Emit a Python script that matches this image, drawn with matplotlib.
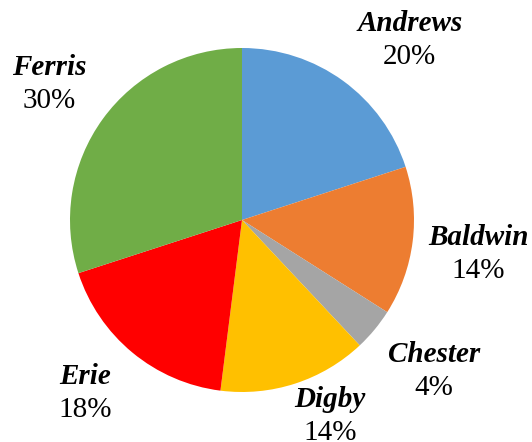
import matplotlib
matplotlib.use("Agg")
import matplotlib.pyplot as plt
import numpy as np

categories = ["Andrews", "Baldwin", "Chester", "Digby", "Erie", "Ferris"]
shares = [20, 14, 4, 14, 18, 30]
colors = ["#5B9BD5", "#ED7D31", "#A5A5A5", "#FFC000", "#FF0000", "#70AD47"]

# label anchor (radius factor, angle offset in degrees) relative to each wedge's mid-angle
label_radius = [1.43, 1.39, 1.42, 1.25, 1.36, 1.37]
label_shift = [-7, -1, 1.4, 6.2, -2.5, 0.7]

fig = plt.figure(figsize=(5.32, 4.42), dpi=100)
ax = fig.add_axes([(242 - 172) / 532, 1 - (220 + 172) / 442, 344 / 532, 344 / 442])

wedges, _ = ax.pie(shares, colors=colors, startangle=90, counterclock=False,
                   radius=1.0, wedgeprops=dict(linewidth=0))
ax.set_xlim(-1, 1)
ax.set_ylim(-1, 1)
ax.set_aspect("equal")

for w, name, val, rf, sh in zip(wedges, categories, shares, label_radius, label_shift):
    mid = np.deg2rad((w.theta1 + w.theta2) / 2 + sh)
    x, y = rf * np.cos(mid), rf * np.sin(mid)
    ax.annotate(name, (x, y), xytext=(0, 12), textcoords="offset points",
                ha="center", va="center", family="Liberation Serif",
                fontsize=21, fontweight="bold", fontstyle="italic",
                annotation_clip=False)
    ax.annotate(f"{val}%", (x, y), xytext=(0, -12), textcoords="offset points",
                ha="center", va="center", family="Liberation Serif",
                fontsize=21, annotation_clip=False)

fig.savefig("out.png", dpi=100)
